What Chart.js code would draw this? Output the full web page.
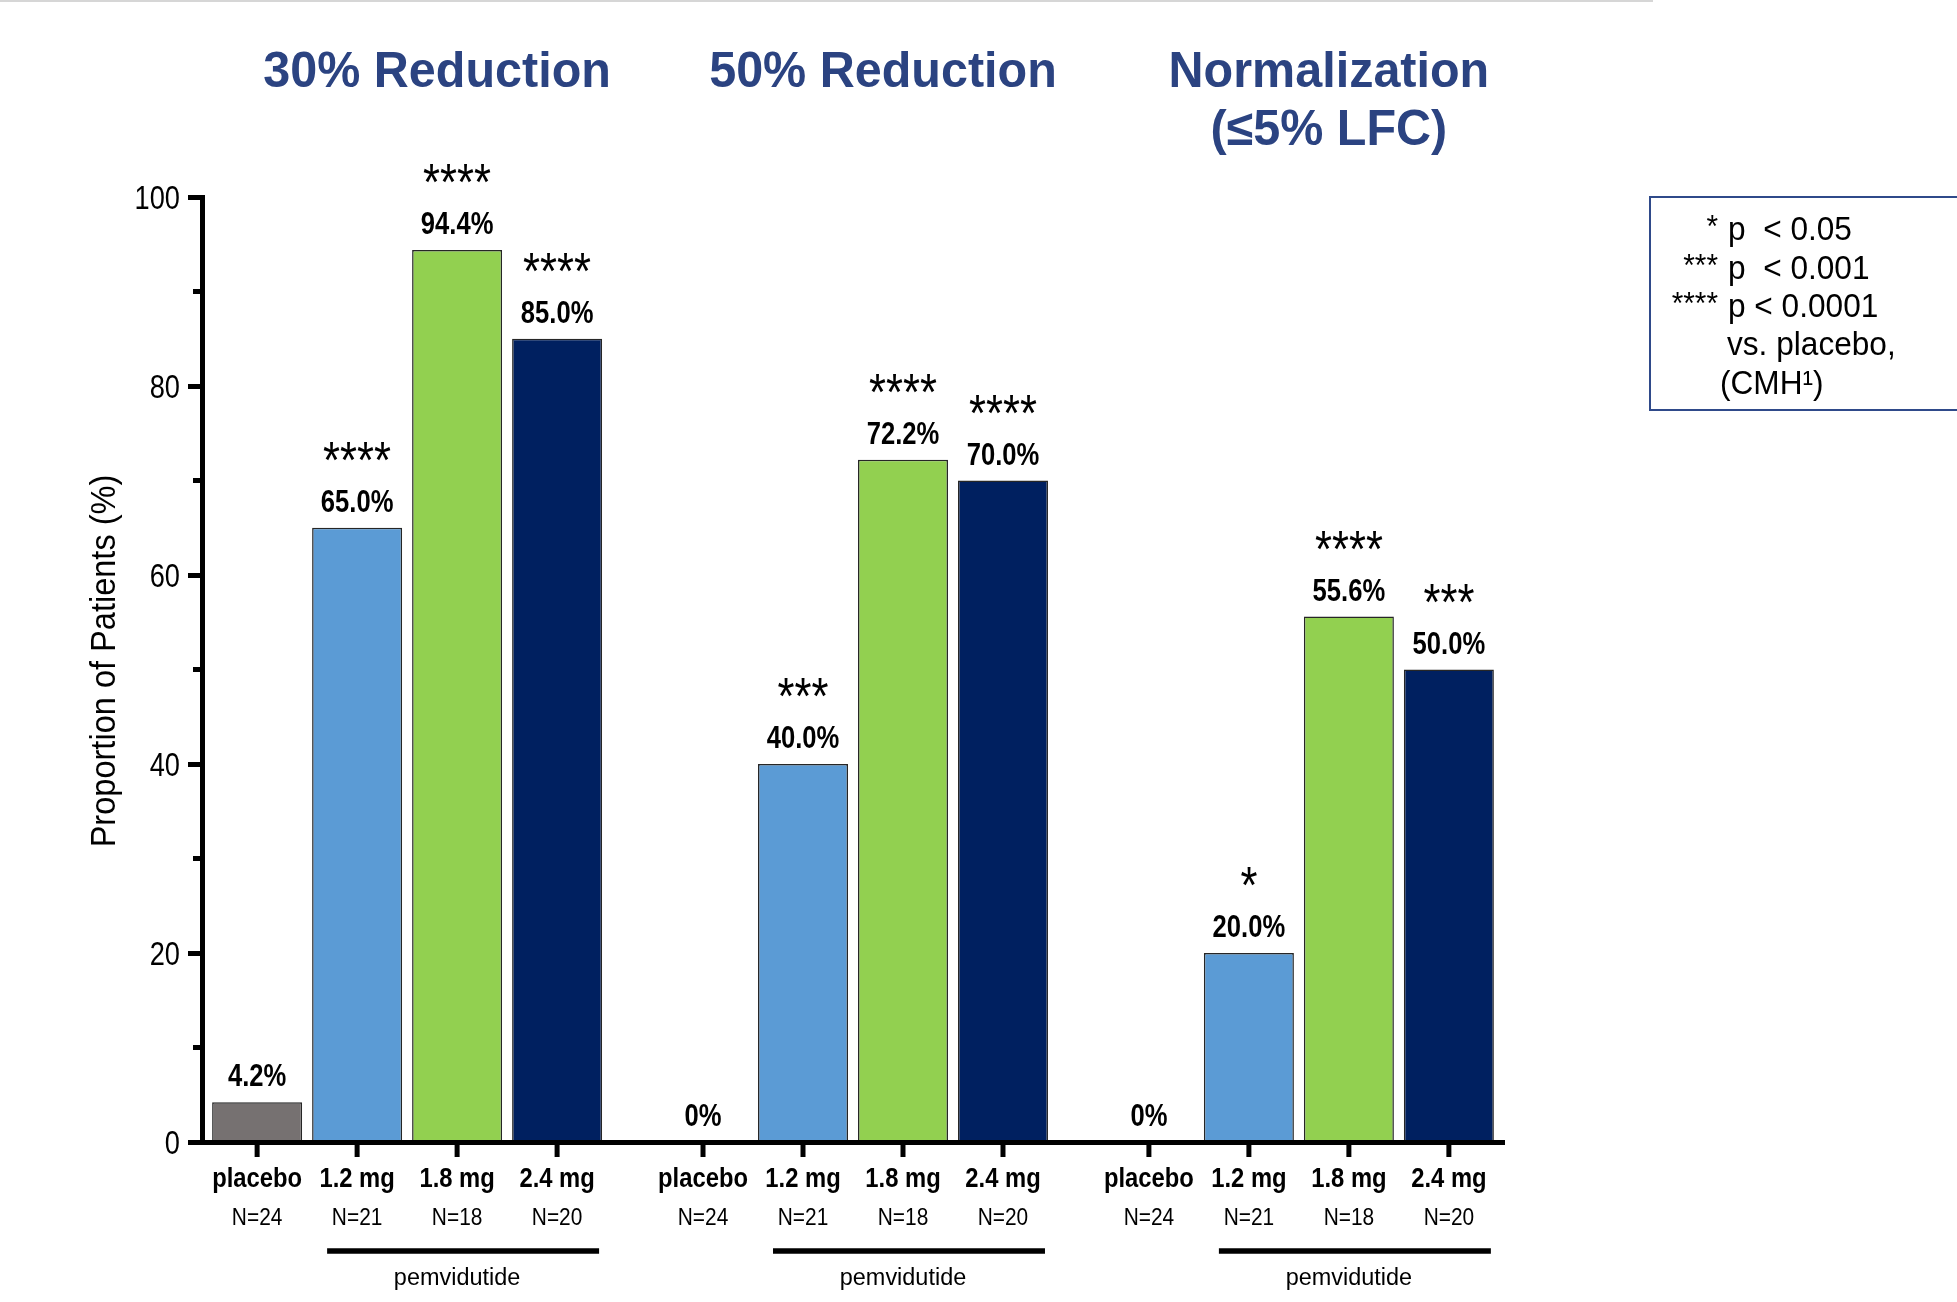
<!DOCTYPE html>
<html>
<head>
<meta charset="utf-8">
<title>Pemvidutide – liver fat responders</title>
<script src="https://cdn.jsdelivr.net/npm/chart.js@4.4.1/dist/chart.umd.min.js"></script>
<style>
  html, body { margin: 0; padding: 0; background: #fff; }
  canvas { display: block; }
</style>
</head>
<body>
<canvas id="responders" width="1957" height="1302"></canvas>
<script>
// outcome groups (title lines) and treatment arms
const outcomes = [['30% Reduction'], ['50% Reduction'], ['Normalization', '(≤5% LFC)']];
const arms = ['placebo', '1.2 mg', '1.8 mg', '2.4 mg'];
const armN = ['N=24', 'N=21', 'N=18', 'N=20'];

// proportion of patients (%) per outcome group
const placebo = [4.2, 0, 0];
const dose12 = [65.0, 40.0, 20.0];
const dose18 = [94.4, 72.2, 55.6];
const dose24 = [85.0, 70.0, 50.0];

// significance markers vs. placebo
const starsPlacebo = ['', '', ''];
const stars12 = ['****', '***', '*'];
const stars18 = ['****', '****', '****'];
const stars24 = ['****', '****', '***'];

const yTicks = [0, 20, 40, 60, 80, 100];
const yMinor = [10, 30, 50, 70, 90];

const sigLevels = ['*', '***', '****'];
const sigText = ['p  < 0.05', 'p  < 0.001', 'p < 0.0001'];
const sigNote = ['vs. placebo,', '(CMH¹)'];
const drugName = 'pemvidutide';

const series = [placebo, dose12, dose18, dose24];
const seriesStars = [starsPlacebo, stars12, stars18, stars24];
const colors = ['#767171', '#5B9BD5', '#92D050', '#002060'];

const FONT = "'Liberation Sans', Arial, sans-serif";

function text(ctx, s, x, y, font, squeeze, align) {
  ctx.save();
  ctx.font = font + ' ' + FONT;
  ctx.textAlign = align || 'center';
  ctx.textBaseline = 'alphabetic';
  ctx.translate(x, y);
  ctx.scale(squeeze, 1);
  ctx.fillText(s, 0, 0);
  ctx.restore();
}

function line(ctx, x1, y1, x2, y2) {
  ctx.beginPath();
  ctx.moveTo(x1, y1);
  ctx.lineTo(x2, y2);
  ctx.stroke();
}

const annotations = {
  id: 'annotations',
  afterDraw(chart) {
    const { ctx, chartArea: area, scales: { x, y } } = chart;
    ctx.save();

    // thin rule along the top of the slide
    ctx.strokeStyle = '#d6d6d6';
    ctx.lineWidth = 2;
    line(ctx, 0, 1, 1653, 1);

    // y axis: minor ticks, labels, title
    ctx.strokeStyle = '#000';
    ctx.fillStyle = '#000';
    ctx.lineWidth = 5;
    yMinor.forEach(v => {
      const py = y.getPixelForValue(v);
      line(ctx, area.left - 9, py, area.left, py);
    });
    yTicks.forEach(v => {
      text(ctx, String(v), area.left - 22, y.getPixelForValue(v) + 12, '34px', 0.8, 'right');
    });
    ctx.save();
    ctx.translate(115, 661);
    ctx.rotate(-Math.PI / 2);
    text(ctx, 'Proportion of Patients (%)', 0, 0, '35px', 0.93);
    ctx.restore();

    // per-bar ticks, category labels, values and stars
    chart.data.datasets.forEach((ds, k) => {
      chart.getDatasetMeta(k).data.forEach((bar, i) => {
        const v = series[k][i];
        ctx.fillStyle = '#000';
        ctx.strokeStyle = '#000';
        ctx.lineWidth = 5;
        line(ctx, bar.x, area.bottom, bar.x, area.bottom + 15);
        text(ctx, arms[k], bar.x, 1187, 'bold 28px', 0.85);
        text(ctx, armN[k], bar.x, 1225, '24px', 0.87);
        text(ctx, v === 0 ? '0%' : v.toFixed(1) + '%', bar.x, bar.y - 16, 'bold 32px', 0.8);
        if (seriesStars[k][i]) {
          text(ctx, seriesStars[k][i], bar.x, bar.y - 50, '52px', 0.84);
        }
      });
    });

    // drug bracket under the dose arms and group titles
    outcomes.forEach((lines, i) => {
      const a = chart.getDatasetMeta(1).data[i].x;
      const b = chart.getDatasetMeta(3).data[i].x;
      ctx.strokeStyle = '#000';
      ctx.fillStyle = '#000';
      ctx.lineWidth = 5.5;
      line(ctx, a - 30, 1251, b + 42, 1251);
      text(ctx, drugName, (a + b) / 2, 1285, '23px', 1.02);

      const cx = x.getPixelForValue(i) + 30;
      ctx.fillStyle = '#2B4381';
      lines.forEach((t, j) => text(ctx, t, cx, 87 + j * 58, 'bold 50px', 0.97));
    });

    // significance key
    ctx.strokeStyle = '#2F4A8A';
    ctx.lineWidth = 2;
    ctx.strokeRect(1650, 197, 340, 213);
    ctx.fillStyle = '#000';
    sigLevels.forEach((s, i) => {
      const base = 240 + i * 38.5;
      text(ctx, s, 1718, base - 3, '32px', 0.93, 'right');
      text(ctx, sigText[i], 1728, base, '34px', 0.93, 'left');
    });
    text(ctx, sigNote[0], 1727, 355, '34px', 0.93, 'left');
    text(ctx, sigNote[1], 1720, 393.5, '34px', 0.93, 'left');

    ctx.restore();
  }
};

new Chart(document.getElementById('responders'), {
  type: 'bar',
  data: {
    datasets: series.map((vals, k) => ({
      label: arms[k],
      data: vals.map((v, i) => ({ x: i, y: v })),
      backgroundColor: colors[k],
      borderColor: '#262626',
      borderWidth: 1.5,
      categoryPercentage: 0.897,
      barPercentage: 0.9
    }))
  },
  options: {
    responsive: false,
    animation: false,
    devicePixelRatio: 1,
    layout: { padding: { left: 188, top: 197, right: 453, bottom: 160 } },
    plugins: { legend: { display: false }, tooltip: { enabled: false } },
    scales: {
      x: {
        type: 'linear',
        min: -0.46,
        max: 2.46,
        offset: false,
        afterBuildTicks: axis => { axis.ticks = outcomes.map((_, i) => ({ value: i })); },
        ticks: { display: false },
        grid: { display: false, drawTicks: false },
        border: { display: true, color: '#000', width: 5, z: 1 }
      },
      y: {
        min: 0,
        max: 100,
        ticks: { display: false, stepSize: 20 },
        grid: { display: true, drawOnChartArea: false, drawTicks: true, tickLength: 14, tickWidth: 5, tickColor: '#000' },
        border: { display: true, color: '#000', width: 5, z: 1 }
      }
    }
  },
  plugins: [annotations]
});
</script>
</body>
</html>
